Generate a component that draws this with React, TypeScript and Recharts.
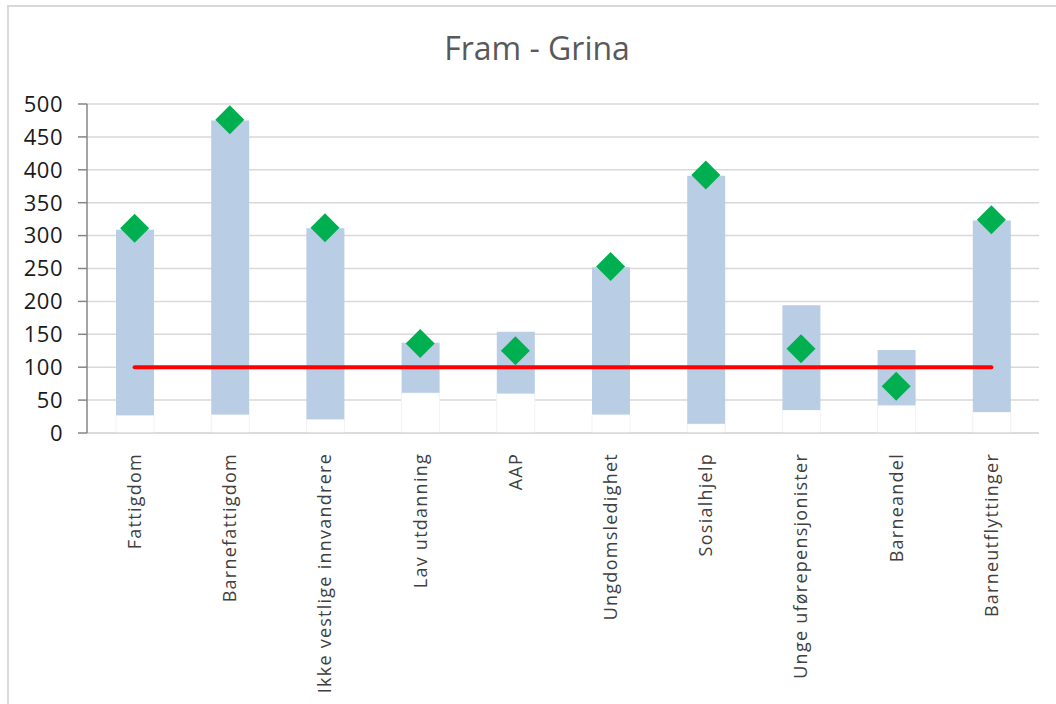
import React from 'react';
import { ComposedChart, Bar, Line, XAxis, YAxis, CartesianGrid } from 'recharts';

const categories = [
  'Fattigdom',
  'Barnefattigdom',
  'Ikke vestlige innvandrere',
  'Lav utdanning',
  'AAP',
  'Ungdomsledighet',
  'Sosialhjelp',
  'Unge uførepensjonister',
  'Barneandel',
  'Barneutflyttinger',
];
const minValues = [27, 28, 21, 61, 60, 28, 14, 35, 42, 32];
const maxValues = [309, 475, 311, 137, 154, 252, 391, 194, 126, 323];
const areaValues = [311, 476, 312, 136, 125, 253, 392, 128, 71, 324];
const landValues = [100, 100, 100, 100, 100, 100, 100, 100, 100, 100];
const yTicks = [0, 50, 100, 150, 200, 250, 300, 350, 400, 450, 500];

const data = categories.map((name, i) => ({
  name,
  low: minValues[i],
  range: maxValues[i] - minValues[i],
  area: areaValues[i],
  land: landValues[i],
}));

const FONT = '"Open Sans", "DejaVu Sans", sans-serif';

const Diamond = (props: any) => {
  const { cx, cy } = props;
  if (cx == null || cy == null) return null;
  const r = 14.5;
  return (
    <polygon
      points={`${cx},${cy - r} ${cx + r},${cy} ${cx},${cy + r} ${cx - r},${cy}`}
      fill="#00B050"
    />
  );
};

const CategoryTick = (props: any) => {
  const { x, y, payload } = props;
  return (
    <g transform={`translate(${x},${y + 12})`}>
      <text
        transform="rotate(-90)"
        textAnchor="end"
        dy="0.35em"
        fontSize={18}
        letterSpacing={1.25}
        fontFamily={FONT}
        fill="#404040"
      >
        {payload.value}
      </text>
    </g>
  );
};

export default function App() {
  return (
    <div
      style={{
        position: 'absolute',
        left: 0,
        top: 0,
        width: 1056,
        height: 704,
        overflow: 'hidden',
        background: '#fff',
      }}
    >
      <div
        style={{
          position: 'absolute',
          left: 7,
          top: 5,
          width: 1070,
          height: 720,
          border: '2px solid #d9d9d9',
          boxSizing: 'border-box',
        }}
      />
      <svg style={{ position: 'absolute', left: 0, top: 0 }} width={1056} height={80}>
        <text x={537} y={60} textAnchor="middle" fontSize={32} fontFamily={FONT} fill="#595959">
          Fram - Grina
        </text>
      </svg>
      <div style={{ position: 'absolute', left: 0, top: 0 }}>
        <ComposedChart
          width={1056}
          height={704}
          data={data}
          margin={{ top: 104, right: 17, bottom: 0, left: 7 }}
          barSize={38}
        >
          <CartesianGrid vertical={false} stroke="#d9d9d9" strokeWidth={1.5} />
          <XAxis
            dataKey="name"
            height={271}
            interval={0}
            axisLine={{ stroke: '#d9d9d9', strokeWidth: 1.5 }}
            tickLine={false}
            tick={<CategoryTick />}
          />
          <YAxis
            width={80}
            domain={[0, 500]}
            ticks={yTicks}
            interval={0}
            axisLine={{ stroke: '#868686', strokeWidth: 1.5 }}
            tickLine={{ stroke: '#868686', strokeWidth: 1.5 }}
            tickSize={9}
            tickMargin={15}
            tick={{ fontSize: 22, letterSpacing: 0.5, fontFamily: FONT, fill: '#1a1a1a' }}
          />
          <Bar dataKey="low" stackId="s" fill="#ffffff" stroke="#f0f2f5" isAnimationActive={false} />
          <Bar dataKey="range" stackId="s" fill="#B9CDE5" isAnimationActive={false} />
          <Line
            dataKey="land"
            stroke="#FF0000"
            strokeWidth={4}
            strokeLinecap="round"
            dot={false}
            activeDot={false}
            isAnimationActive={false}
          />
          <Line
            dataKey="area"
            stroke="none"
            dot={<Diamond />}
            activeDot={false}
            isAnimationActive={false}
          />
        </ComposedChart>
      </div>
    </div>
  );
}
